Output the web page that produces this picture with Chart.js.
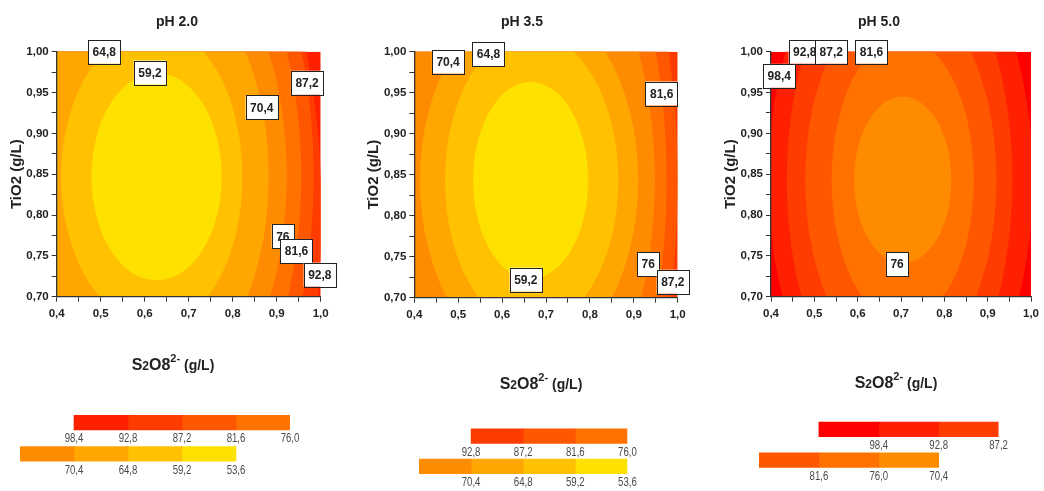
<!DOCTYPE html>
<html>
<head>
<meta charset="utf-8">
<script src="https://cdn.jsdelivr.net/npm/chart.js@4.4.0/dist/chart.umd.min.js"></script>
<style>
  html, body { margin: 0; padding: 0; background: #fff; }
  #wrap { position: relative; width: 1044px; height: 491px; overflow: hidden; }
  #wrap canvas { position: absolute; }
</style>
</head>
<body>
<div id="wrap"></div>
<script>
// response levels (%) = lower bound of each colour band, and the band colours
const levels = [53.6, 59.2, 64.8, 70.4, 76.0, 81.6, 87.2, 92.8, 98.4];
const bandColors = ['#FFE100', '#FFC100', '#FFA700', '#FF8C00', '#FF7200', '#FF5700', '#FF3C00', '#FF2000', '#FF0000'];

const panelTitles = ['pH 2.0', 'pH 3.5', 'pH 5.0'];

// contour outlines: level, centre x, centre y, left half-width, right half-width, half-height (g/L)
const contours20 = [
  [92.8, 0.627, 0.800, 0.52, 0.375, 0.478],
  [87.2, 0.627, 0.847, 0.47, 0.357, 0.40],
  [81.6, 0.627, 0.847, 0.42, 0.329, 0.35],
  [76.0, 0.627, 0.847, 0.36, 0.296, 0.30],
  [70.4, 0.627, 0.847, 0.30, 0.255, 0.25],
  [64.8, 0.627, 0.847, 0.217, 0.195, 0.183],
  [59.2, 0.627, 0.847, 0.148, 0.148, 0.127]
];
const contours35 = [
  [87.2, 0.665, 0.843, 0.42, 0.335, 0.45],
  [81.6, 0.665, 0.843, 0.36, 0.31, 0.40],
  [76.0, 0.665, 0.843, 0.30, 0.283, 0.318],
  [70.4, 0.665, 0.843, 0.252, 0.245, 0.218],
  [64.8, 0.665, 0.843, 0.195, 0.20, 0.18],
  [59.2, 0.665, 0.843, 0.131, 0.131, 0.12]
];
const contours50 = [
  [98.4, 0.704, 0.843, 0.31, 0.30, 0.32],
  [92.8, 0.704, 0.843, 0.2675, 0.253, 0.293],
  [87.2, 0.704, 0.843, 0.225, 0.216, 0.229],
  [81.6, 0.704, 0.843, 0.164, 0.164, 0.174],
  [76.0, 0.704, 0.843, 0.112, 0.112, 0.102]
];

// contour labels: text, x, y
const labels20 = [['64,8', 0.508, 1.0], ['59,2', 0.612, 0.9745], ['70,4', 0.866, 0.932], ['87,2', 0.969, 0.962],
                  ['76', 0.914, 0.774], ['81,6', 0.945, 0.756], ['92,8', 0.998, 0.727]];
const labels35 = [['70,4', 0.477, 0.988], ['64,8', 0.569, 0.997], ['81,6', 0.9635, 0.949], ['59,2', 0.654, 0.722],
                  ['76', 0.933, 0.741], ['87,2', 0.989, 0.7195]];
const labels50 = [['98,4', 0.419, 0.9705], ['92,8', 0.478, 1.0], ['87,2', 0.539, 1.0], ['81,6', 0.632, 1.0], ['76', 0.691, 0.74]];

// colour keys: swatch lower bounds per row and the values printed at the swatch edges
const key20Top = [92.8, 87.2, 81.6, 76.0];
const key20TopText = ['98,4', '92,8', '87,2', '81,6', '76,0'];
const key20Bottom = [70.4, 64.8, 59.2, 53.6];
const key20BottomText = ['', '70,4', '64,8', '59,2', '53,6'];
const key35Top = [87.2, 81.6, 76.0];
const key35TopText = ['92,8', '87,2', '81,6', '76,0'];
const key35Bottom = [70.4, 64.8, 59.2, 53.6];
const key35BottomText = ['', '70,4', '64,8', '59,2', '53,6'];
const key50Top = [98.4, 92.8, 87.2];
const key50TopText = ['', '98,4', '92,8', '87,2'];
const key50Bottom = [81.6, 76.0, 70.4];
const key50BottomText = ['', '81,6', '76,0', '70,4'];

const FONT = '"Liberation Sans", Arial, sans-serif';
const wrap = document.getElementById('wrap');

function bandColor(low) {
  return bandColors[levels.indexOf(low)];
}

function fmt(v, d) {
  return v.toFixed(d).replace('.', ',');
}

function makeCanvas(left, top, w, h) {
  const c = document.createElement('canvas');
  c.width = w;
  c.height = h;
  c.style.left = left + 'px';
  c.style.top = top + 'px';
  c.style.width = w + 'px';
  c.style.height = h + 'px';
  wrap.appendChild(c);
  return c;
}

// filled contour bands, outermost first
const contourFill = {
  id: 'contourFill',
  beforeDraw(chart) {
    const {ctx, chartArea: a, scales: {x, y}} = chart;
    const shapes = chart.options.plugins.contourFill.shapes;
    ctx.save();
    ctx.beginPath();
    ctx.rect(a.left, a.top, a.right - a.left, a.bottom - a.top);
    ctx.clip();
    ctx.fillStyle = bandColor(shapes[0][0]);
    ctx.fillRect(a.left, a.top, a.right - a.left, a.bottom - a.top);
    shapes.forEach(([lev, cx, cy, aL, aR, b]) => {
      const px = x.getPixelForValue(cx);
      const py = y.getPixelForValue(cy);
      const rl = px - x.getPixelForValue(cx - aL);
      const rr = x.getPixelForValue(cx + aR) - px;
      const rv = py - y.getPixelForValue(cy + b);
      ctx.beginPath();
      ctx.ellipse(px, py, rr, rv, 0, -Math.PI / 2, Math.PI / 2);
      ctx.ellipse(px, py, rl, rv, 0, Math.PI / 2, Math.PI * 1.5);
      ctx.closePath();
      ctx.fillStyle = bandColor(levels[levels.indexOf(lev) - 1]);
      ctx.fill();
    });
    ctx.restore();
  }
};

// white boxed values sitting on the contour lines
const contourLabels = {
  id: 'contourLabels',
  afterDraw(chart) {
    const ctx = chart.ctx;
    const texts = chart.options.plugins.contourLabels.texts;
    const pts = chart.getDatasetMeta(0).data;
    ctx.save();
    ctx.font = 'bold 12px ' + FONT;
    ctx.textAlign = 'center';
    ctx.textBaseline = 'middle';
    pts.forEach((p, i) => {
      const w = ctx.measureText(texts[i]).width + 9;
      const h = 24;
      ctx.fillStyle = '#fff';
      ctx.fillRect(p.x - w / 2, p.y - h / 2, w, h);
      ctx.strokeStyle = '#222';
      ctx.lineWidth = 1;
      ctx.strokeRect(Math.round(p.x - w / 2) + 0.5, Math.round(p.y - h / 2) + 0.5, Math.round(w), h);
      ctx.fillStyle = '#222';
      ctx.fillText(texts[i], p.x, p.y + 1);
    });
    ctx.restore();
  }
};

// panel title and the S2O8 axis title (superscript charge)
const panelText = {
  id: 'panelText',
  afterDraw(chart) {
    const o = chart.options.plugins.panelText;
    const ctx = chart.ctx;
    ctx.save();
    ctx.fillStyle = '#222';
    ctx.textBaseline = 'middle';
    ctx.textAlign = 'center';
    ctx.font = 'bold 14px ' + FONT;
    ctx.fillText(o.title, o.titleX, o.titleY);

    const parts = [['S', 16, 0], ['2', 12, 0], ['O8', 16, 0], ['2-', 11, -8], [' (g/L)', 14, 0]];
    ctx.textAlign = 'left';
    ctx.textBaseline = 'alphabetic';
    let total = 0;
    parts.forEach(p => { ctx.font = 'bold ' + p[1] + 'px ' + FONT; total += ctx.measureText(p[0]).width; });
    let cx = o.xTitleX - total / 2;
    parts.forEach(p => {
      ctx.font = 'bold ' + p[1] + 'px ' + FONT;
      ctx.fillText(p[0], cx, o.xTitleY + 6 + p[2]);
      cx += ctx.measureText(p[0]).width;
    });
    ctx.restore();
  }
};

const panels = [
  {contours: contours20, labels: labels20, left: 0, width: 350, plot: [56.7, 320.7, 51.7, 296.7], titleX: 177, xTitle: [173, 364]},
  {contours: contours35, labels: labels35, left: 350, width: 350, plot: [414.3, 677.7, 51.7, 297.7], titleX: 522, xTitle: [541, 383]},
  {contours: contours50, labels: labels50, left: 700, width: 344, plot: [771, 1034.3, 51.7, 296.7], titleX: 879, xTitle: [896, 382]}
];

const PLOT_H = 400, Y_AXIS_W = 52, X_AXIS_H = 30;
const tickFont = {family: FONT, size: 11.5, weight: 'bold'};

panels.forEach((p, idx) => {
  const canvas = makeCanvas(p.left, 0, p.width, PLOT_H);
  const [l, r, t, b] = p.plot;
  new Chart(canvas, {
    type: 'scatter',
    data: {
      datasets: [{
        data: p.labels.map(q => ({x: q[1], y: q[2]})),
        pointRadius: 0
      }]
    },
    options: {
      responsive: false,
      animation: false,
      events: [],
      layout: {
        padding: {left: l - p.left - Y_AXIS_W, right: p.left + p.width - r, top: t, bottom: PLOT_H - b - X_AXIS_H}
      },
      plugins: {
        legend: {display: false},
        tooltip: {enabled: false},
        contourFill: {shapes: p.contours},
        contourLabels: {texts: p.labels.map(q => q[0])},
        panelText: {title: panelTitles[idx], titleX: p.titleX - p.left, titleY: 21.7,
                    xTitleX: p.xTitle[0] - p.left, xTitleY: p.xTitle[1]}
      },
      scales: {
        x: {
          type: 'linear', min: 0.4, max: 1.0,
          afterFit: s => { s.height = X_AXIS_H; },
          ticks: {
            stepSize: 0.05, autoSkip: false, maxRotation: 0, padding: 5,
            color: '#222', font: tickFont,
            callback: v => (Math.round(v * 100) % 10 === 0 ? fmt(v, 1) : '')
          },
          grid: {drawOnChartArea: false, tickLength: 5, color: '#333'},
          border: {color: '#333', width: 1.3}
        },
        y: {
          type: 'linear', min: 0.7, max: 1.0,
          afterFit: s => { s.width = Y_AXIS_W; },
          title: {display: true, text: 'TiO2 (g/L)', color: '#222', font: {family: FONT, size: 15, weight: 'bold'}, padding: {top: 3, bottom: 3}},
          ticks: {
            stepSize: 0.025, autoSkip: false, padding: 3,
            color: '#222', font: tickFont,
            callback: v => (Math.round(v * 1000) % 50 === 0 ? fmt(v, 2) : '')
          },
          grid: {drawOnChartArea: false, tickLength: 5, color: '#333'},
          border: {color: '#333', width: 1.3}
        }
      }
    },
    plugins: [contourFill, contourLabels, panelText]
  });
});

// colour keys under each panel
const keyValues = {
  id: 'keyValues',
  afterDatasetsDraw(chart) {
    const o = chart.options.plugins.keyValues;
    const {ctx, scales: {x, y}} = chart;
    ctx.save();
    ctx.fillStyle = '#4a4a4a';
    ctx.font = '13px ' + FONT;
    ctx.textAlign = 'center';
    ctx.textBaseline = 'middle';
    [[o.topText, 1], [o.bottomText, 0]].forEach(([texts, start], row) => {
      const yc = y.getPixelForValue(row) + 7.25 + 9;
      texts.forEach((txt, i) => {
        if (!txt) return;
        const xc = x.getPixelForValue(start + i);
        ctx.save();
        ctx.translate(xc, yc);
        ctx.scale(0.74, 1);
        ctx.fillText(txt, 0, 0);
        ctx.restore();
      });
    });
    ctx.restore();
  }
};

const keys = [
  {top: key20Top, topText: key20TopText, bottom: key20Bottom, bottomText: key20BottomText, units: 5, x0: 20, unit: 54, rowY: 422.2, gap: 31.3},
  {top: key35Top, topText: key35TopText, bottom: key35Bottom, bottomText: key35BottomText, units: 4, x0: 419, unit: 52.1, rowY: 436.2, gap: 30.3},
  {top: key50Top, topText: key50TopText, bottom: key50Bottom, bottomText: key50BottomText, units: 4, x0: 759.3, unit: 59.9, rowY: 429.8, gap: 30.7}
];

keys.forEach(k => {
  const side = 25, under = 22;
  const w = Math.round(k.units * k.unit + 2 * side);
  const h = Math.round(2 * k.gap + under);
  const canvas = makeCanvas(Math.round(k.x0 - side), Math.round(k.rowY - k.gap / 2), w, h);
  const n = Math.max(k.top.length, k.bottom.length);
  const datasets = [];
  for (let i = 0; i < n; i++) {
    datasets.push({
      data: [
        i < k.top.length ? [1 + i, 2 + i] : null,
        i < k.bottom.length ? [i, i + 1] : null
      ],
      backgroundColor: [bandColor(k.top[i]), bandColor(k.bottom[i])],
      grouped: false,
      barThickness: 14.5,
      borderWidth: 0
    });
  }
  new Chart(canvas, {
    type: 'bar',
    data: {labels: ['top', 'bottom'], datasets},
    options: {
      indexAxis: 'y',
      responsive: false,
      animation: false,
      events: [],
      layout: {padding: {left: side, right: w - side - k.units * k.unit, top: 0, bottom: h - 2 * k.gap}},
      plugins: {
        legend: {display: false},
        tooltip: {enabled: false},
        keyValues: {topText: k.topText, bottomText: k.bottomText}
      },
      scales: {
        x: {type: 'linear', min: 0, max: k.units, display: false},
        y: {display: false}
      }
    },
    plugins: [keyValues]
  });
});
</script>
</body>
</html>
